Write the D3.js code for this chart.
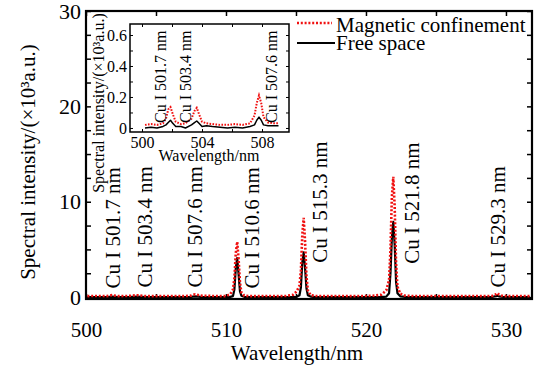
<!DOCTYPE html>
<html><head><meta charset="utf-8">
<script src="https://cdn.jsdelivr.net/npm/d3@7"></script>
<style>
html,body{margin:0;padding:0;background:#fff;}
svg{display:block;}
svg text{font-family:"Liberation Serif","Times New Roman",serif;fill:#000;}
.domain{display:none;}
</style></head>
<body>
<svg id="chart" width="535" height="369"></svg>
<script>
// ---- main spectrum data ----
const mainWl = [500.1, 500.8, 501.5, 501.85, 502.3, 503.0, 503.65, 504.3, 505.0, 506.0, 507.0, 507.5, 507.8, 508.2, 509.0, 509.7,
  510.0, 510.3, 510.5, 510.6, 510.7, 510.8, 510.9, 511.0, 511.1, 511.3, 511.6,
  512.3, 513.0, 513.7, 514.3,
  514.8, 515.05, 515.25, 515.35, 515.45, 515.55, 515.65, 515.75, 515.85, 516.05, 516.4,
  517.0, 518.0, 519.0, 520.0, 520.6,
  521.1, 521.45, 521.65, 521.75, 521.85, 521.95, 522.05, 522.15, 522.25, 522.45, 522.8,
  523.5, 524.5, 525.5, 526.5, 527.5, 528.4,
  529.0, 529.3, 529.4, 529.5, 529.8,
  530.4, 531.0, 531.7];
const mainMagnetic = [0.1, 0.12, 0.1, 0.2, 0.1, 0.12, 0.2, 0.1, 0.1, 0.12, 0.1, 0.15, 0.3, 0.15, 0.12, 0.1,
  0.1, 0.3, 0.8, 2.0, 4.6, 5.8, 4.0, 1.5, 0.5, 0.15, 0.1,
  0.1, 0.12, 0.1, 0.12,
  0.25, 0.6, 1.2, 2.8, 6.5, 8.3, 5.8, 2.2, 0.7, 0.2, 0.12,
  0.1, 0.12, 0.1, 0.12, 0.15,
  0.25, 0.7, 1.8, 5.0, 10.5, 12.6, 9.5, 3.6, 1.1, 0.35, 0.15,
  0.1, 0.12, 0.1, 0.1, 0.12, 0.1,
  0.12, 0.3, 0.42, 0.25, 0.1,
  0.1, 0.12, 0.1];
const mainFree = [0.0, 0.01, 0.0, 0.05, 0.0, 0.01, 0.05, 0.01, 0.0, 0.01, 0.0, 0.02, 0.07, 0.02, 0.0, 0.0,
  0.0, 0.02, 0.1, 0.8, 3.0, 4.1, 2.4, 0.6, 0.15, 0.03, 0.0,
  0.0, 0.01, 0.0, 0.01,
  0.0, 0.03, 0.2, 1.0, 3.6, 4.7, 3.0, 0.9, 0.2, 0.05, 0.0,
  0.0, 0.01, 0.0, 0.01, 0.0,
  0.0, 0.05, 0.4, 2.5, 6.2, 7.9, 5.5, 1.6, 0.4, 0.08, 0.02,
  0.0, 0.01, 0.0, 0.0, 0.01, 0.0,
  0.01, 0.1, 0.15, 0.08, 0.01,
  0.0, 0.01, 0.0];

// ---- inset data ----
const insetWl = [500.2, 500.6, 501.0, 501.4, 501.6, 501.75, 501.9, 502.05, 502.25, 502.6, 502.9, 503.3, 503.5, 503.65, 503.8, 504.0, 504.3, 504.7, 505.2, 505.7, 506.2, 506.7, 507.2, 507.5, 507.65, 507.8, 507.95, 508.1, 508.4, 508.8, 509.1];
const insetMagnetic = [0.02, 0.025, 0.02, 0.03, 0.06, 0.12, 0.135, 0.09, 0.04, 0.025, 0.03, 0.06, 0.11, 0.13, 0.09, 0.04, 0.03, 0.025, 0.02, 0.02, 0.025, 0.02, 0.03, 0.08, 0.16, 0.21, 0.16, 0.07, 0.035, 0.03, 0.03];
const insetFree = [0.0, 0.005, 0.0, 0.01, 0.02, 0.035, 0.05, 0.03, 0.01, 0.01, 0.0, 0.02, 0.035, 0.045, 0.03, 0.01, 0.015, 0.01, 0.005, 0.0, 0.005, 0.0, 0.01, 0.02, 0.05, 0.07, 0.05, 0.02, 0.015, 0.015, 0.015];

// ---- labels ----
const mainXTicks = [500, 505, 510, 515, 520, 525, 530];
const mainXLabels = [500, 510, 520, 530];
const mainYTicks = [0, 2.5, 5, 7.5, 10, 12.5, 15, 17.5, 20, 22.5, 25, 27.5, 30];
const mainYLabels = [0, 10, 20, 30];
const insetXTicks = [500, 502, 504, 506, 508];
const insetXLabels = [500, 504, 508];
const insetYTicks = [0, 0.1, 0.2, 0.3, 0.4, 0.5, 0.6];
const insetYLabels = [0, 0.2, 0.4, 0.6];
const mainLines = ["Cu I 501.7 nm", "Cu I 503.4 nm", "Cu I 507.6 nm", "Cu I 510.6 nm", "Cu I 515.3 nm", "Cu I 521.8 nm", "Cu I 529.3 nm"];
const mainLinePos = [502.45, 504.72, 508.3, 512.36, 517.2, 523.78, 529.95];
const mainLineBottom = [0.9, 1.0, 1.0, 0.9, 3.6, 3.5, 1.0];
const insetLines = ["Cu I 501.7 nm", "Cu I 503.4 nm", "Cu I 507.6 nm"];
const insetLinePos = [501.6, 503.25, 509.0];
const seriesNames = ["Magnetic confinement", "Free space"];

const svg = d3.select("#chart");
const RED = "#f01010";

// main scales
const x = d3.scaleLinear().domain([500, 531.86]).range([86, 532]);
const y = d3.scaleLinear().domain([-0.2, 30]).range([299, 11]);

const mainFont = 21;
const fmtX = (labels) => d => labels.includes(d) ? d : "";
svg.append("g").attr("transform", "translate(0,299)")
  .call(d3.axisBottom(x).tickValues(mainXTicks).tickSize(-5).tickPadding(23).tickFormat(fmtX(mainXLabels)))
  .call(g => g.selectAll("text").attr("font-size", mainFont))
  .call(g => g.selectAll("line").attr("stroke-width", 1.5));
svg.append("g").attr("transform", "translate(0,11)")
  .call(d3.axisTop(x).tickValues(mainXTicks).tickSize(-5).tickFormat(""))
  .call(g => g.selectAll("line").attr("stroke-width", 1.5));
svg.append("g").attr("transform", "translate(86,0)")
  .call(d3.axisLeft(y).tickValues(mainYTicks).tickSize(-5).tickPadding(5).tickFormat(fmtX(mainYLabels)))
  .call(g => g.selectAll("text").attr("font-size", 22))
  .call(g => g.selectAll("line").attr("stroke-width", 1.5));
svg.append("g").attr("transform", "translate(532,0)")
  .call(d3.axisRight(y).tickValues(mainYTicks).tickSize(-5).tickFormat(""))
  .call(g => g.selectAll("line").attr("stroke-width", 1.5));

svg.append("clipPath").attr("id", "mainclip").append("rect")
  .attr("x", 86).attr("y", 11).attr("width", 446).attr("height", 288);

const lineMain = d3.line().x(d => x(d[0])).y(d => y(d[1]));
const gMain = svg.append("g").attr("clip-path", "url(#mainclip)");
gMain.append("path").datum(d3.zip(mainWl, mainFree)).attr("d", lineMain)
  .attr("fill", "none").attr("stroke", "#000").attr("stroke-width", 2.2).attr("stroke-linejoin", "round");
gMain.append("path").datum(d3.zip(mainWl, mainMagnetic)).attr("d", lineMain)
  .attr("fill", "none").attr("stroke", RED).attr("stroke-width", 2.6).attr("stroke-dasharray", "2,1.8");

mainLines.forEach((t, i) => {
  svg.append("text")
    .attr("transform", `translate(${x(mainLinePos[i])},${y(mainLineBottom[i])}) rotate(-90)`)
    .attr("font-size", mainFont).text(t);
});

svg.append("rect").attr("x", 86).attr("y", 11).attr("width", 446).attr("height", 288)
  .attr("fill", "none").attr("stroke", "#000").attr("stroke-width", 2.2);

svg.append("text").attr("x", 297).attr("y", 360).attr("text-anchor", "middle")
  .attr("font-size", mainFont).text("Wavelength/nm");
svg.append("text").attr("transform", "translate(35,162) rotate(-90)").attr("text-anchor", "middle")
  .attr("font-size", mainFont).text("Spectral intensity/(×10³a.u.)");

// legend
const legend = svg.append("g");
legend.append("line").attr("x1", 297).attr("x2", 332).attr("y1", 23).attr("y2", 23)
  .attr("stroke", RED).attr("stroke-width", 2.6).attr("stroke-dasharray", "2,1.8");
legend.append("text").attr("x", 336).attr("y", 32).attr("font-size", 21).text(seriesNames[0]);
legend.append("line").attr("x1", 297).attr("x2", 335).attr("y1", 43).attr("y2", 43)
  .attr("stroke", "#000").attr("stroke-width", 2.2);
legend.append("text").attr("x", 336).attr("y", 50).attr("font-size", 21).text(seriesNames[1]);

// ---- inset ----
const ix = d3.scaleLinear().domain([499.2, 509.8]).range([130, 289]);
const iy = d3.scaleLinear().domain([-0.026, 0.671]).range([132, 24]);
const insetFont = 16;
svg.append("rect").attr("x", 130).attr("y", 24).attr("width", 159).attr("height", 108)
  .attr("fill", "#fff").attr("stroke", "none");

svg.append("g").attr("transform", "translate(0,132)")
  .call(d3.axisBottom(ix).tickValues(insetXTicks).tickSize(-3).tickPadding(5).tickFormat(fmtX(insetXLabels)))
  .call(g => g.selectAll("text").attr("font-size", insetFont));
svg.append("g").attr("transform", "translate(0,24)")
  .call(d3.axisTop(ix).tickValues(insetXTicks).tickSize(-3).tickFormat(""));
svg.append("g").attr("transform", "translate(130,0)")
  .call(d3.axisLeft(iy).tickValues(insetYTicks).tickSize(-3).tickPadding(3).tickFormat(fmtX(insetYLabels)))
  .call(g => g.selectAll("text").attr("font-size", insetFont));
svg.append("g").attr("transform", "translate(289,0)")
  .call(d3.axisRight(iy).tickValues(insetYTicks).tickSize(-3).tickFormat(""));

const lineInset = d3.line().x(d => ix(d[0])).y(d => iy(d[1]));
svg.append("path").datum(d3.zip(insetWl, insetFree)).attr("d", lineInset)
  .attr("fill", "none").attr("stroke", "#000").attr("stroke-width", 1.5).attr("stroke-linejoin", "round");
svg.append("path").datum(d3.zip(insetWl, insetMagnetic)).attr("d", lineInset)
  .attr("fill", "none").attr("stroke", RED).attr("stroke-width", 2).attr("stroke-dasharray", "1.6,1.4");

insetLines.forEach((t, i) => {
  svg.append("text")
    .attr("transform", `translate(${ix(insetLinePos[i])},123) rotate(-90)`)
    .attr("font-size", insetFont).text(t);
});

svg.append("rect").attr("x", 130).attr("y", 24).attr("width", 159).attr("height", 108)
  .attr("fill", "none").attr("stroke", "#000").attr("stroke-width", 1.5);

svg.append("text").attr("x", 209).attr("y", 161).attr("text-anchor", "middle")
  .attr("font-size", insetFont).text("Wavelength/nm");
svg.append("text").attr("transform", "translate(104,103) rotate(-90)").attr("text-anchor", "middle")
  .attr("font-size", insetFont).text("Spectral intensity/(×10³a.u.)");
</script>
</body></html>
